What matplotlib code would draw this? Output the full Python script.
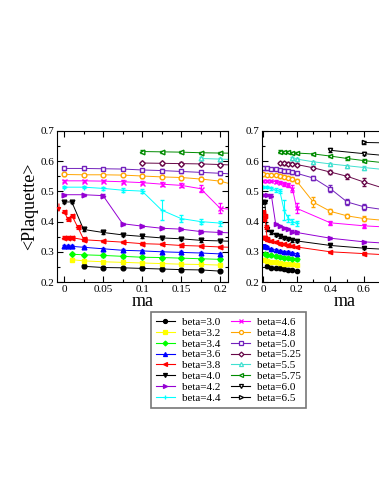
import numpy as np
import matplotlib
matplotlib.use("Agg")
import matplotlib.pyplot as plt
from matplotlib.lines import Line2D

plt.rcParams['font.family'] = ['Liberation Serif', 'DejaVu Serif']

# donnees : x = ma, y = <Plaquette>
X_DENSE = [0, 0.025, 0.05, 0.075, 0.1, 0.125, 0.15, 0.175, 0.2]

b30_x = [0.025, 0.05, 0.075, 0.1, 0.125, 0.15, 0.175, 0.2]
b30_y = [0.252, 0.248, 0.247, 0.245, 0.243, 0.241, 0.240, 0.236]

b32_x = [0.01, 0.025, 0.05, 0.075, 0.1, 0.125, 0.15, 0.175, 0.2]
b32_y = [0.274, 0.270, 0.267, 0.265, 0.263, 0.261, 0.259, 0.258, 0.256]

b34_x = [0.01, 0.025, 0.05, 0.075, 0.1, 0.125, 0.15, 0.175, 0.2]
b34_y = [0.292, 0.290, 0.288, 0.285, 0.282, 0.281, 0.279, 0.277, 0.275]

b36_x = [0, 0.005, 0.01, 0.025, 0.05, 0.075, 0.1, 0.125, 0.15, 0.175, 0.2]
b36_y = [0.318, 0.318, 0.318, 0.315, 0.310, 0.305, 0.303, 0.300, 0.298, 0.296, 0.293]

b38_x = [0, 0.005, 0.01, 0.025, 0.05, 0.075, 0.1, 0.125, 0.15, 0.175, 0.2, 0.4, 0.6, 0.8]
b38_y = [0.347, 0.347, 0.347, 0.340, 0.336, 0.332, 0.327, 0.325, 0.321, 0.319, 0.316,
         0.300, 0.294, 0.288]
# branche haute (hysteresis) pour beta=3.8
b38h_x = [0, 0.005, 0.01, 0.0175, 0.025]
b38h_y = [0.433, 0.408, 0.420, 0.382, 0.342]

b40_x = [0, 0.01, 0.025, 0.05, 0.075, 0.1, 0.125, 0.15, 0.175, 0.2, 0.4, 0.6, 0.8]
b40_y = [0.465, 0.465, 0.374, 0.364, 0.356, 0.351, 0.346, 0.343, 0.338, 0.336,
         0.321, 0.312, 0.306]

b42_x = X_DENSE + [0.4, 0.6, 0.8]
b42_y = [0.489, 0.489, 0.486, 0.393, 0.385, 0.378, 0.375, 0.367, 0.364,
         0.345, 0.333, 0.326]

b44_x = X_DENSE
b44_y = [0.514, 0.514, 0.510, 0.504, 0.501, 0.438, 0.410, 0.400, 0.395]
b44_e = [0.004, 0.004, 0.005, 0.006, 0.006, 0.032, 0.012, 0.009, 0.008]

b46_x = X_DENSE + [0.4, 0.6, 0.8]
b46_y = [0.535, 0.535, 0.534, 0.532, 0.529, 0.524, 0.520, 0.509, 0.444,
         0.396, 0.386, 0.380]
b46_e = [0.004, 0.004, 0.004, 0.005, 0.005, 0.006, 0.007, 0.011, 0.016,
         0.007, 0.006, 0.006]

b48_x = X_DENSE + [0.3, 0.4, 0.5, 0.6, 0.8]
b48_y = [0.556, 0.555, 0.555, 0.554, 0.551, 0.548, 0.546, 0.541, 0.534,
         0.464, 0.434, 0.419, 0.410, 0.400]
b48_e = [0.004, 0.004, 0.004, 0.004, 0.005, 0.005, 0.005, 0.006, 0.007,
         0.016, 0.008, 0.007, 0.008, 0.007]

b50_x = X_DENSE + [0.3, 0.4, 0.5, 0.6, 0.8]
b50_y = [0.576, 0.576, 0.575, 0.574, 0.571, 0.569, 0.566, 0.563, 0.560,
         0.544, 0.509, 0.465, 0.449, 0.433]
b50_e = [0.004, 0.004, 0.004, 0.004, 0.004, 0.005, 0.005, 0.005, 0.005,
         0.007, 0.012, 0.010, 0.010, 0.008]

b525_x = [0.1, 0.125, 0.15, 0.175, 0.2, 0.3, 0.4, 0.5, 0.6, 0.8]
b525_y = [0.594, 0.593, 0.592, 0.591, 0.589, 0.578, 0.564, 0.550, 0.531, 0.496]
b525_e = [0.004, 0.004, 0.004, 0.004, 0.004, 0.005, 0.006, 0.008, 0.012, 0.010]

b55_x = [0.175, 0.2, 0.3, 0.4, 0.5, 0.6, 0.8]
b55_y = [0.609, 0.607, 0.598, 0.591, 0.585, 0.579, 0.568]

b575_x = [0.1, 0.125, 0.15, 0.175, 0.2, 0.3, 0.4, 0.5, 0.6, 0.8]
b575_y = [0.632, 0.631, 0.630, 0.628, 0.627, 0.624, 0.617, 0.609, 0.602, 0.590]

b60_x = [0.4, 0.6, 0.8]
b60_y = [0.636, 0.625, 0.615]

b65_x = [0.6, 0.8]
b65_y = [0.662, 0.660]

labels = ["beta=3.0", "beta=3.2", "beta=3.4", "beta=3.6", "beta=3.8", "beta=4.0",
          "beta=4.2", "beta=4.4", "beta=4.6", "beta=4.8", "beta=5.0", "beta=5.25",
          "beta=5.5", "beta=5.75", "beta=6.0", "beta=6.5"]

series = [
    (b30_x, b30_y, None, '#000000', 'o', True),
    (b32_x, b32_y, None, '#ffff00', 's', True),
    (b34_x, b34_y, None, '#00ff00', 'D', True),
    (b36_x, b36_y, None, '#0000ff', '^', True),
    (b38_x, b38_y, None, '#ff0000', '<', True),
    (b40_x, b40_y, None, '#000000', 'v', True),
    (b42_x, b42_y, None, '#9400d3', '>', True),
    (b44_x, b44_y, b44_e, '#00ffff', '+', True),
    (b46_x, b46_y, b46_e, '#ff00ff', 'x', True),
    (b48_x, b48_y, b48_e, '#ffa500', 'o', False),
    (b50_x, b50_y, b50_e, '#7221bc', 's', False),
    (b525_x, b525_y, b525_e, '#670748', 'D', False),
    (b55_x, b55_y, None, '#40e0d0', '^', False),
    (b575_x, b575_y, None, '#008b00', '<', False),
    (b60_x, b60_y, None, '#000000', 'v', False),
    (b65_x, b65_y, None, '#000000', '>', False),
]

W, H = 379, 491
fig = plt.figure(figsize=(W / 100, H / 100), dpi=100)


def px_box(x0, y0, x1, y1):
    return [x0 / W, 1 - y1 / H, (x1 - x0) / W, (y1 - y0) / H]


ax1 = fig.add_axes(px_box(57, 131, 228, 282))
ax2 = fig.add_axes(px_box(262, 131, 401, 282))


def taille(m, scale):
    if m in ('+', 'x'):
        return 3.6 * scale
    if m == 'D':
        return 2.9 * scale
    return 3.4 * scale


def trace(ax, scale=1.0):
    for (x, y, e, c, m, filled), lab in zip(series, labels):
        if e is None:
            e = [0.004] * len(y)
        ax.errorbar(x, y, yerr=e, color=c, marker=m, ms=taille(m, scale), lw=0.7,
                    mfc=c if filled else 'white', mec=c, mew=1.0,
                    elinewidth=0.8, capsize=1.7, capthick=0.8)
    # branche haute beta=3.8
    ax.errorbar(b38h_x, b38h_y, yerr=[0.006] * len(b38h_y), color='#ff0000', marker='<',
                ms=3.4 * scale, lw=0.7, elinewidth=0.8, capsize=1.7, capthick=0.8)


trace(ax1)
trace(ax2, 0.9)

ax1.annotate("", xy=(-0.0065, 0.422), xytext=(-0.0065, 0.468),
             arrowprops=dict(arrowstyle='-|>', color='#ff0000', lw=0.8,
                             mutation_scale=6))

ax1.set_xlim(-0.009, 0.21)
ax2.set_xlim(-0.006, 0.82)
for ax in (ax1, ax2):
    ax.set_ylim(0.2, 0.7)
    ax.set_yticks([0.2, 0.3, 0.4, 0.5, 0.6, 0.7])
    ax.set_yticklabels(["0.2", "0.3", "0.4", "0.5", "0.6", "0.7"])
    ax.set_yticks(np.arange(0.25, 0.7, 0.1), minor=True)
    ax.tick_params(which='both', direction='in', top=True, right=True,
                   labelsize=8, pad=2)
    ax.tick_params(which='major', length=4, width=0.8)
    ax.tick_params(which='minor', length=2, width=0.8)
    for s in ax.spines.values():
        s.set_linewidth(0.8)

ax1.set_xticks([0, 0.05, 0.1, 0.15, 0.2])
ax1.set_xticklabels(["0", "0.05", "0.1", "0.15", "0.2"])
ax1.set_xticks([0.025, 0.075, 0.125, 0.175], minor=True)
ax2.set_xticks([0, 0.2, 0.4, 0.6, 0.8])
ax2.set_xticklabels(["0", "0.2", "0.4", "0.6", ""])
ax2.set_xticks([0.1, 0.3, 0.5, 0.7], minor=True)

fig.text(30 / W, 1 - 206 / H, "<Plaquette>", rotation=90, ha='center', va='center',
         fontsize=13)
fig.text(143 / W, 1 - 306 / H, "ma", ha='center', va='baseline', fontsize=13)
fig.text(345 / W, 1 - 306 / H, "ma", ha='center', va='baseline', fontsize=13)

handles = []
for (x, y, e, c, m, filled) in series:
    handles.append(Line2D([], [], color=c, marker=m, ms=taille(m, 0.85), lw=0.8,
                          mfc=c if filled else 'white', mec=c, mew=0.9))

leg = fig.legend(handles=handles, labels=labels, ncol=2,
                 loc='upper left', bbox_to_anchor=(151 / W, 1 - 312 / H),
                 borderaxespad=0, fontsize=8, handlelength=1.7, handletextpad=0.6,
                 labelspacing=0.1, columnspacing=1.0, borderpad=0.45,
                 frameon=True, fancybox=False)
leg.get_frame().set_edgecolor('#555555')
leg.get_frame().set_linewidth(1.2)

fig.savefig("out.png", dpi=100)
